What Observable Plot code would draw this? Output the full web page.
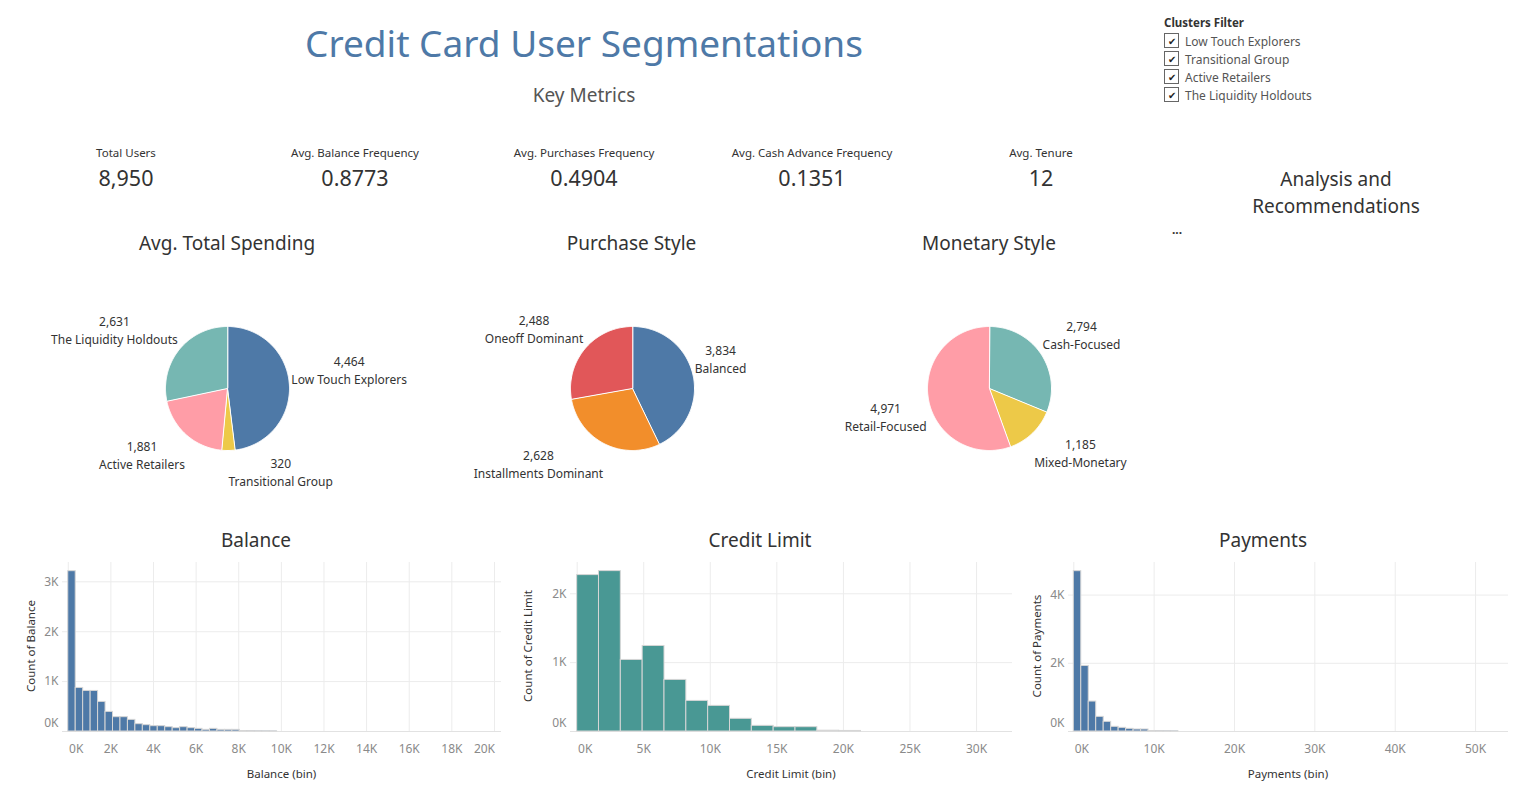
<!DOCTYPE html>
<html>
<head>
<meta charset="utf-8">
<script src="https://cdn.jsdelivr.net/npm/d3@7"></script>
<script src="https://cdn.jsdelivr.net/npm/@observablehq/plot@0.6"></script>
<style>
  html, body { margin: 0; padding: 0; background: #fff; }
  #root { position: relative; width: 1519px; height: 799px; overflow: hidden; font-family: "Noto Sans", sans-serif; color: #333; }
  .t { position: absolute; transform: translate(-50%, -50%); white-space: nowrap; text-align: center; }
  .abs { position: absolute; }
  .abs svg { overflow: visible; }
  .cb { position: absolute; left: 1164px; width: 15px; height: 15px; border: 1px solid #666; box-sizing: border-box; font-size: 10px; line-height: 14px; text-align: center; color: #222; }
  .cbl { position: absolute; left: 1185px; font-size: 12px; color: #555; transform: translateY(-50%); white-space: nowrap; }
</style>
</head>
<body>
<div id="root"></div>
<script>
// ---------- Data ----------
const metricLabels = ["Total Users", "Avg. Balance Frequency", "Avg. Purchases Frequency", "Avg. Cash Advance Frequency", "Avg. Tenure"];
const metricValues = ["8,950", "0.8773", "0.4904", "0.1351", "12"];

const clusterNames = ["Low Touch Explorers", "Transitional Group", "Active Retailers", "The Liquidity Holdouts"];
const spendingValues = [4464, 320, 1881, 2631];

const purchaseNames = ["Balanced", "Installments Dominant", "Oneoff Dominant"];
const purchaseValues = [3834, 2628, 2488];

const monetaryNames = ["Cash-Focused", "Mixed-Monetary", "Retail-Focused"];
const monetaryValues = [2794, 1185, 4971];

const balanceBinSize = 350;
const balanceCounts = [3213, 873, 813, 813, 593, 393, 287, 287, 233, 147, 127, 107, 107, 87, 67, 87, 67, 53, 33, 53, 33, 33, 33, 10, 8, 6, 5, 4];
const creditBinSize = 1640;
const creditCounts = [2271, 2329, 1039, 1242, 749, 444, 372, 184, 82, 63, 63, 12, 8];
const paymentsBinSize = 930;
const paymentsCounts = [4702, 1922, 878, 429, 283, 137, 107, 78, 59, 59, 15, 12, 10, 8];

const balanceTicks = [0, 2000, 4000, 6000, 8000, 10000, 12000, 14000, 16000, 18000, 20000];
const creditTicks = [0, 5000, 10000, 15000, 20000, 25000, 30000];
const paymentsTicks = [0, 10000, 20000, 30000, 40000, 50000];
const balanceYTicks = [0, 1000, 2000, 3000];
const creditYTicks = [0, 1000, 2000];
const paymentsYTicks = [0, 2000, 4000];

const filterItems = ["Low Touch Explorers", "Transitional Group", "Active Retailers", "The Liquidity Holdouts"];

// ---------- Helpers ----------
const root = document.getElementById("root");
function label(text, x, y, style) {
  const d = document.createElement("div");
  d.className = "t";
  d.textContent = text;
  d.style.left = x + "px";
  d.style.top = y + "px";
  Object.assign(d.style, style || {});
  root.appendChild(d);
  return d;
}
function place(node, left, top) {
  const d = document.createElement("div");
  d.className = "abs";
  d.style.left = left + "px";
  d.style.top = top + "px";
  d.appendChild(node);
  root.appendChild(d);
}

// ---------- Header ----------
label("Credit Card User Segmentations", 584, 42, {fontSize: "37px", color: "#4e79a7"});
label("Key Metrics", 584, 95, {fontSize: "19px", color: "#555"});

const metricX = [126, 355, 584, 812, 1041];
metricLabels.forEach((m, i) => {
  label(m, metricX[i], 152, {fontSize: "11.5px", color: "#333"});
  label(metricValues[i], metricX[i], 177, {fontSize: "21.5px", color: "#333"});
});

// Filter
const ft = document.createElement("div");
ft.className = "abs";
ft.style.left = "1164px"; ft.style.top = "15px";
ft.style.fontSize = "11.5px"; ft.style.fontWeight = "bold"; ft.style.color = "#333";
ft.textContent = "Clusters Filter";
root.appendChild(ft);
filterItems.forEach((name, i) => {
  const y = 41 + i * 18;
  const b = document.createElement("div");
  b.className = "cb"; b.style.top = (y - 8) + "px"; b.textContent = "✔";
  root.appendChild(b);
  const l = document.createElement("div");
  l.className = "cbl"; l.style.top = (y - 0.5) + "px"; l.textContent = name;
  root.appendChild(l);
});

label("Analysis and", 1336, 179, {fontSize: "19px", color: "#333"});
label("Recommendations", 1336, 206, {fontSize: "19px", color: "#333"});
label("...", 1177, 229, {fontSize: "12px", color: "#333", fontWeight: "bold"});

// ---------- Pies ----------
const pieCenters = [[227, 388], [631.5, 388], [989, 388]];
const pieTitles = ["Avg. Total Spending", "Purchase Style", "Monetary Style"];
pieTitles.forEach((t, i) => label(t, pieCenters[i][0], 243, {fontSize: "19px", color: "#333"}));

function pieChart(names, values, colors, cx, cy) {
  const r = 62, Wd = 400, Ht = 240;
  const data = names.map((n, i) => ({name: n, value: values[i]}));
  const arcs = d3.pie().sort(null).value(d => d.value)(data);
  const pts = [];
  const labs = [];
  arcs.forEach(a => {
    const n = Math.max(2, Math.ceil((a.endAngle - a.startAngle) / (Math.PI / 180)));
    pts.push({name: a.data.name, x: 0, y: 0});
    for (let k = 0; k <= n; k++) {
      const t = a.startAngle + (a.endAngle - a.startAngle) * k / n;
      pts.push({name: a.data.name, x: Math.sin(t), y: Math.cos(t)});
    }
    const mid = (a.startAngle + a.endAngle) / 2;
    const s = Math.sin(mid), c = Math.cos(mid);
    labs.push({
      x: 1.03 * s, y: (c > 0 ? 1.14 : 1.07) * c, up: c > 0,
      text: d3.format(",")(a.data.value) + "\n" + a.data.name
    });
  });
  const textOpts = {x: "x", y: "y", text: "text", fontSize: 12, lineHeight: 1.5, fill: "#333", textAnchor: "middle"};
  const marks = [
    Plot.line(pts, {x: "x", y: "y", z: "name", fill: "name", stroke: "white", strokeWidth: 1, curve: "linear-closed"})
  ];
  const upLabs = labs.filter(d => d.up), downLabs = labs.filter(d => !d.up);
  if (upLabs.length) marks.push(Plot.text(upLabs, {...textOpts, lineAnchor: "bottom"}));
  if (downLabs.length) marks.push(Plot.text(downLabs, {...textOpts, lineAnchor: "top"}));
  const svg = Plot.plot({
    width: Wd, height: Ht, margin: 0,
    style: {background: "transparent", fontFamily: "Noto Sans", overflow: "visible"},
    x: {domain: [-Wd / 2 / r, Wd / 2 / r], axis: null},
    y: {domain: [-Ht / 2 / r, Ht / 2 / r], axis: null},
    color: {domain: names, range: colors},
    marks
  });
  place(svg, cx - Wd / 2, cy - Ht / 2);
  // move each label block outward so its inner edge sits at the anchor point
  svg.querySelectorAll("g[aria-label='text'] text").forEach(t => {
    const bb = t.getBBox();
    const tr = t.getAttribute("transform") || "";
    const m = /translate\(\s*([-\d.eE]+)/.exec(tr);
    const ax = m ? +m[1] : (+t.getAttribute("x") || 0);
    const side = ax >= Wd / 2 ? 1 : -1;
    t.setAttribute("transform", tr + ` translate(${side * bb.width / 2},0)`);
  });
}
pieChart(clusterNames, spendingValues, ["#4e79a7", "#edc948", "#ff9da7", "#76b7b2"], ...pieCenters[0]);
pieChart(purchaseNames, purchaseValues, ["#4e79a7", "#f28e2b", "#e15759"], ...pieCenters[1]);
pieChart(monetaryNames, monetaryValues, ["#76b7b2", "#edc948", "#ff9da7"], ...pieCenters[2]);

// ---------- Histograms ----------
const fmtK = d => Math.round(d / 1000) + "K";
function histogram(cfg) {
  const data = cfg.counts.map((c, i) => ({x1: i * cfg.bin, x2: (i + 1) * cfg.bin, count: c}));
  const xt = cfg.xTicks;
  const lastShift = cfg.lastShift || 0;
  const tp = 13;
  const svg = Plot.plot({
    width: cfg.width, height: 235,
    marginLeft: cfg.ml, marginRight: cfg.mr, marginTop: 7, marginBottom: 59,
    style: {background: "transparent", fontFamily: "Noto Sans", fontSize: "12px", overflow: "visible"},
    x: {domain: cfg.xDomain, axis: null},
    y: {domain: cfg.yDomain, axis: null},
    marks: [
      Plot.gridX(xt, {stroke: "#ececec", strokeOpacity: 1}),
      Plot.gridY(cfg.yTicks.filter(d => d > 0), {stroke: "#ececec", strokeOpacity: 1}),
      Plot.ruleY([0], {stroke: "#e2e2e2"}),
      Plot.rectY(data, {x1: "x1", x2: "x2", y: "count", fill: cfg.color, stroke: "#d6d6d6", strokeWidth: 1}),
      Plot.axisX(xt.slice(1, lastShift ? -1 : undefined), {tickSize: 0, tickPadding: tp, tickFormat: fmtK, fill: "#8a8a8a", fontSize: 12, label: null}),
      Plot.axisX([xt[0]], {tickSize: 0, tickPadding: tp, tickFormat: fmtK, fill: "#8a8a8a", fontSize: 12, dx: 8, label: null}),
      ...(lastShift ? [Plot.axisX([xt[xt.length - 1]], {tickSize: 0, tickPadding: tp, tickFormat: fmtK, fill: "#8a8a8a", fontSize: 12, dx: lastShift, label: null})] : []),
      Plot.axisY(cfg.yTicks.filter(d => d > 0), {tickSize: 0, tickPadding: 4, tickFormat: fmtK, fill: "#8a8a8a", fontSize: 12, label: null}),
      Plot.axisY([0], {tickSize: 0, tickPadding: 4, tickFormat: fmtK, fill: "#8a8a8a", fontSize: 12, dy: -8, label: null})
    ]
  });
  place(svg, cfg.left, 555);
  const plotLeft = cfg.left + cfg.ml, plotRight = cfg.left + cfg.width - cfg.mr;
  label(cfg.title, cfg.titleX, 540, {fontSize: "19px", color: "#333"});
  label(cfg.xLabel, (plotLeft + plotRight) / 2, 773, {fontSize: "11.5px", color: "#333"});
  label(cfg.yLabel, cfg.yTitleX, 646, {fontSize: "11.5px", color: "#333", transform: "translate(-50%, -50%) rotate(-90deg)"});
}

histogram({title: "Balance", xLabel: "Balance (bin)", yLabel: "Count of Balance",
  counts: balanceCounts, bin: balanceBinSize, color: "#4e79a7",
  xDomain: [-270, 20330], yDomain: [0, 3387], xTicks: balanceTicks, yTicks: balanceYTicks,
  left: 15, width: 495, ml: 47, mr: 9, lastShift: -10, titleX: 256, yTitleX: 30});
histogram({title: "Credit Limit", xLabel: "Credit Limit (bin)", yLabel: "Count of Credit Limit",
  counts: creditCounts, bin: creditBinSize, color: "#499894",
  xDomain: [-500, 32700], yDomain: [0, 2454], xTicks: creditTicks, yTicks: creditYTicks,
  left: 515, width: 505, ml: 55, mr: 8, titleX: 760, yTitleX: 527});
histogram({title: "Payments", xLabel: "Payments (bin)", yLabel: "Count of Payments",
  counts: paymentsCounts, bin: paymentsBinSize, color: "#4e79a7",
  xDomain: [-660, 54100], yDomain: [0, 4956], xTicks: paymentsTicks, yTicks: paymentsYTicks,
  left: 1015, width: 504, ml: 53, mr: 11, titleX: 1263, yTitleX: 1036});
</script>
</body>
</html>
